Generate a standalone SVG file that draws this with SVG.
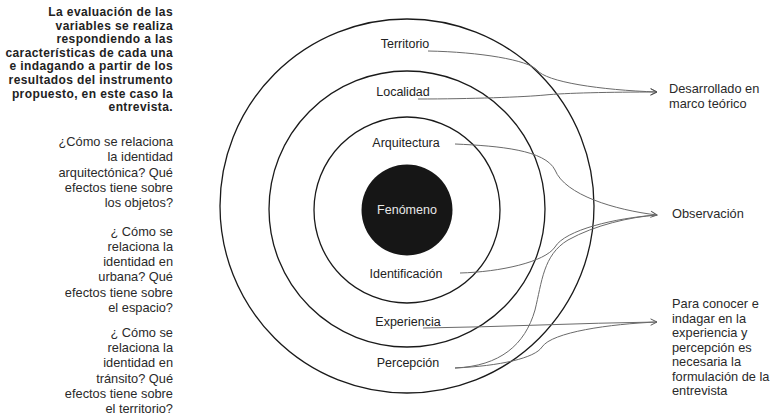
<svg xmlns="http://www.w3.org/2000/svg" width="770" height="419" viewBox="0 0 770 419">
<defs>
<style>
.t{font-family:"Liberation Sans",Arial,sans-serif;font-size:12.8px;fill:#2a2a2a}
.b{font-family:"Liberation Sans",Arial,sans-serif;font-size:12px;font-weight:bold;letter-spacing:0.4px;fill:#222}
.lab{font-family:"Liberation Sans",Arial,sans-serif;font-size:12.5px;fill:#222;text-anchor:middle}
.ring{fill:none;stroke:#1a1a1a;stroke-width:1.3}
.c{fill:none;stroke:#6a6a6a;stroke-width:1}
</style>
<marker id="arr" viewBox="0 0 10 10" refX="9" refY="5" markerWidth="8" markerHeight="8" markerUnits="userSpaceOnUse" orient="auto">
<path d="M1,1 L9,5 L1,9" fill="none" stroke="#555" stroke-width="1.2"/>
</marker>
</defs>
<rect width="770" height="419" fill="#fff"/>
<g id="intro" text-anchor="end">
<text class="b" x="173" y="16">La evaluación de las</text>
<text class="b" x="173" y="29.6">variables se realiza</text>
<text class="b" x="173" y="43.2">respondiendo a las</text>
<text class="b" x="173" y="56.8">características de cada una</text>
<text class="b" x="173" y="70.4">e indagando a partir de los</text>
<text class="b" x="173" y="84">resultados del instrumento</text>
<text class="b" x="173" y="97.6">propuesto, en este caso la</text>
<text class="b" x="173" y="111.2">entrevista.</text>
</g>
<g id="q1" text-anchor="end">
<text class="t" x="173" y="146">¿Cómo se relaciona</text>
<text class="t" x="173" y="161">la identidad</text>
<text class="t" x="173" y="177">arquitectónica? Qué</text>
<text class="t" x="173" y="192">efectos tiene sobre</text>
<text class="t" x="173" y="207">los objetos?</text>
</g>
<g id="q2" text-anchor="end">
<text class="t" x="173" y="236">¿ Cómo se</text>
<text class="t" x="173" y="251">relaciona la</text>
<text class="t" x="173" y="266">identidad en</text>
<text class="t" x="173" y="281">urbana? Qué</text>
<text class="t" x="173" y="297">efectos tiene sobre</text>
<text class="t" x="173" y="312">el espacio?</text>
</g>
<g id="q3" text-anchor="end">
<text class="t" x="173" y="337">¿ Cómo se</text>
<text class="t" x="173" y="352">relaciona la</text>
<text class="t" x="173" y="367">identidad en</text>
<text class="t" x="173" y="383">tránsito? Qué</text>
<text class="t" x="173" y="398">efectos tiene sobre</text>
<text class="t" x="173" y="413">el territorio?</text>
</g>
<g id="ring-outer"><circle class="ring" cx="407" cy="206" r="187"/></g>
<g id="ring-middle"><circle class="ring" cx="407" cy="209" r="138"/></g>
<g id="ring-inner"><circle class="ring" cx="407" cy="210" r="93"/></g>
<g id="fenomeno">
<circle cx="407" cy="210" r="45.5" fill="#161616"/>
<text class="lab" x="407" y="214" style="fill:#e8e8e8">Fenómeno</text>
</g>
<g id="territorio"><text class="lab" x="405" y="48">Territorio</text></g>
<g id="localidad"><text class="lab" x="403" y="96">Localidad</text></g>
<g id="arquitectura"><text class="lab" x="406" y="147">Arquitectura</text></g>
<g id="identificacion"><text class="lab" x="406" y="278">Identificación</text></g>
<g id="experiencia"><text class="lab" x="408" y="326">Experiencia</text></g>
<g id="percepcion"><text class="lab" x="408" y="367">Percepción</text></g>
<g id="desarrollado">
<text class="t" x="669" y="93">Desarrollado en</text>
<text class="t" x="669" y="108">marco teórico</text>
</g>
<g id="observacion"><text class="t" x="672" y="218">Observación</text></g>
<g id="entrevista">
<text class="t" x="672" y="308">Para conocer e</text>
<text class="t" x="672" y="323">indagar en la</text>
<text class="t" x="672" y="337">experiencia y</text>
<text class="t" x="672" y="352">percepción es</text>
<text class="t" x="672" y="366">necesaria la</text>
<text class="t" x="672" y="381">formulación de la</text>
<text class="t" x="672" y="395">entrevista</text>
</g>
<g id="connectors">
<path class="c" d="M428,51 C480,52 528,60 537,70 C546,82 600,90 657,92" marker-end="url(#arr)"/>
<path class="c" d="M418,99 C470,99 525,97 545,95 C565,93 610,92 657,92" marker-end="url(#arr)"/>
<path class="c" d="M455,144 C500,146 545,150 555,170 C565,195 615,210 657,215" marker-end="url(#arr)"/>
<path class="c" d="M460,273 C500,272 545,262 555,247 C565,230 615,218 657,215"/>
<path class="c" d="M455,368 C500,366 525,345 535,310 C542,282 543,255 568,240 C595,225 630,217 657,215"/>
<path class="c" d="M423,328 C500,327 580,323 657,322" marker-end="url(#arr)"/>
<path class="c" d="M455,368 C500,366 535,358 542,347 C552,332 610,324 657,322"/>
</g>
</svg>
